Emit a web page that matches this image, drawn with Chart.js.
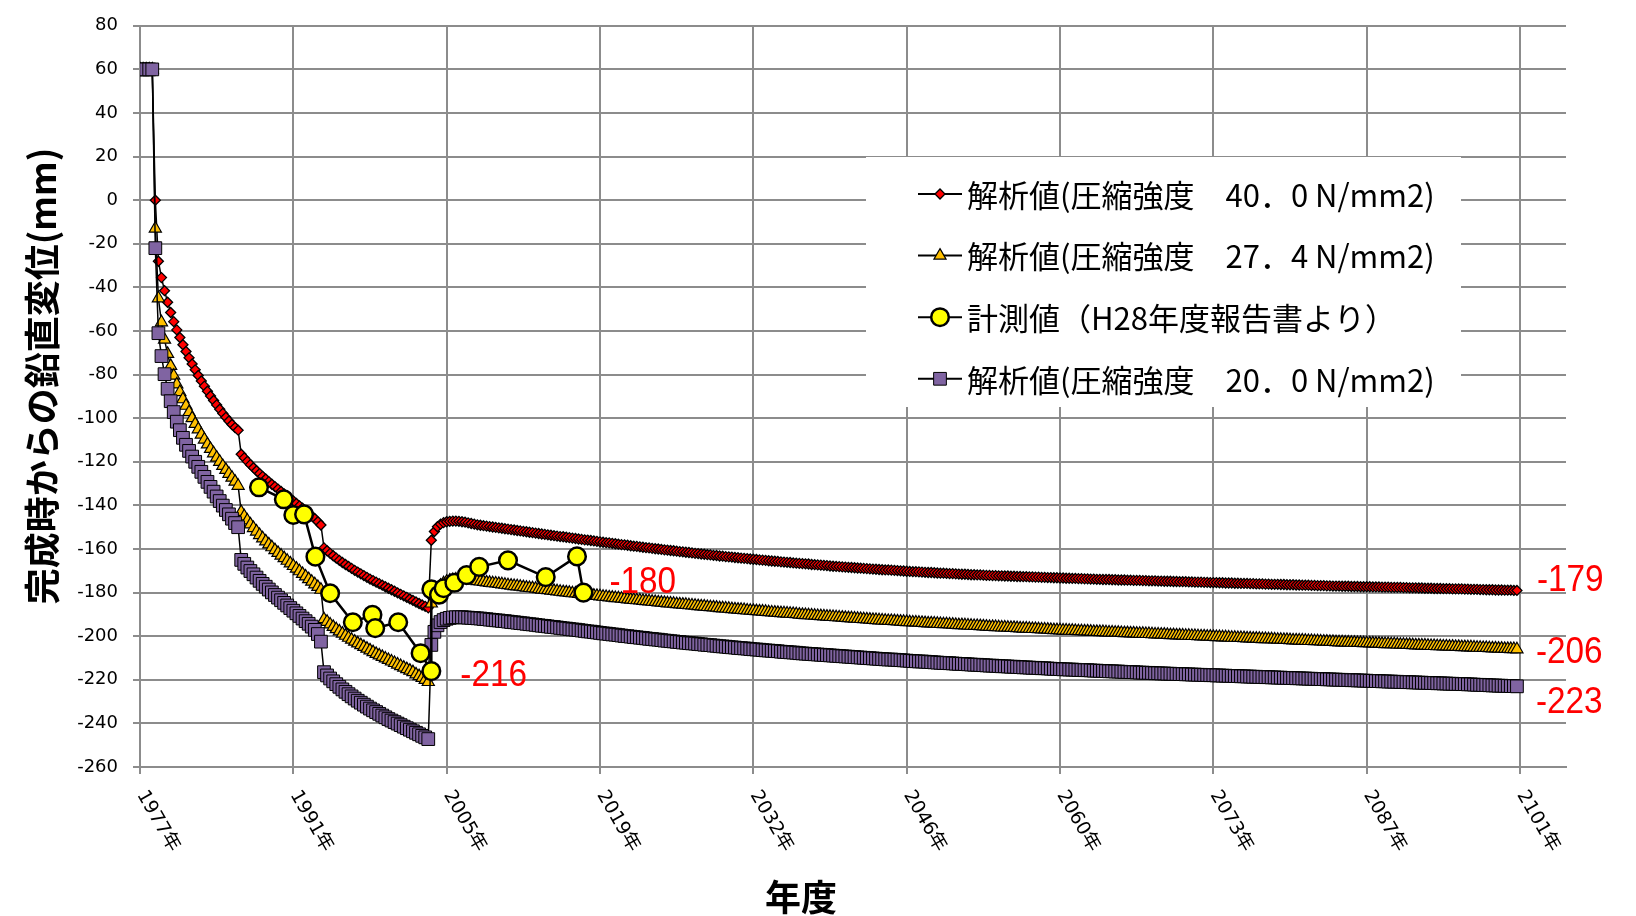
<!DOCTYPE html>
<html lang="ja">
<head>
<meta charset="utf-8">
<title>完成時からの鉛直変位</title>
<script src="https://cdn.jsdelivr.net/npm/chart.js@4.4.1/dist/chart.umd.min.js"></script>
<style>
html,body{margin:0;padding:0;background:#fff;}
#wrap{position:relative;width:1636px;height:916px;}
</style>
</head>
<body>
<div id="wrap"><canvas id="c" width="1636" height="916"></canvas></div>
<script>
// Time axis: one analysis step = 100 days; a year label every 50 steps
const tickSteps = [0, 50, 100, 150, 200, 250, 300, 350, 400, 450];
const tickLabels = ['1977年', '1991年', '2005年', '2019年', '2032年', '2046年', '2060年', '2073年', '2087年', '2101年'];

const seriesNames = [
  '解析値(圧縮強度　40．0 N/mm2)',
  '解析値(圧縮強度　27．4 N/mm2)',
  '計測値（H28年度報告書より）',
  '解析値(圧縮強度　20．0 N/mm2)'
];

// Analysis, compressive strength 40.0 N/mm2 (mm, one value per step)
const fc40 = [
60,60,60,60,60,0,-28,-35.5,-41.5,-46.8,
-51.5,-55.7,-59.5,-63,-66.3,-69.4,-72.3,-75.1,-77.8,-80.4,
-82.9,-85.3,-87.6,-89.8,-91.9,-93.9,-95.9,-97.8,-99.6,-101.3,
-102.9,-104.3,-105.5,-116.5,-118.2,-119.8,-121.3,-122.7,-124.1,-125.4,
-126.7,-127.9,-129.1,-130.3,-131.4,-132.5,-133.6,-134.7,-135.8,-136.9,
-138,-139.1,-140.2,-141.3,-142.4,-143.6,-144.8,-146.1,-147.5,-149,
-159.5,-160.8,-162,-163.1,-164.2,-165.2,-166.2,-167.1,-168,-168.9,
-169.8,-170.6,-171.4,-172.2,-173,-173.8,-174.5,-175.2,-175.9,-176.6,
-177.3,-178,-178.7,-179.4,-180.1,-180.8,-181.5,-182.2,-182.9,-183.6,
-184.3,-185,-185.7,-186.3,-187,-156,-152,-149.8,-148.6,-147.9,
-147.5,-147.3,-147.2,-147.2,-147.3,-147.5,-147.7,-148,-148.3,-148.6,
-148.9,-149.1,-149.3,-149.5,-149.7,-149.9,-150.1,-150.3,-150.5,-150.7,
-150.9,-151.1,-151.3,-151.5,-151.7,-151.9,-152.1,-152.3,-152.5,-152.7,
-152.9,-153.1,-153.3,-153.5,-153.7,-153.9,-154.1,-154.3,-154.4,-154.6,
-154.8,-155,-155.2,-155.4,-155.6,-155.8,-155.9,-156.1,-156.3,-156.5,
-156.7,-156.9,-157.1,-157.2,-157.4,-157.6,-157.8,-158,-158.1,-158.3,
-158.5,-158.7,-158.8,-159,-159.2,-159.4,-159.5,-159.7,-159.9,-160,
-160.2,-160.4,-160.5,-160.7,-160.8,-161,-161.2,-161.3,-161.5,-161.6,
-161.8,-162,-162.1,-162.3,-162.4,-162.6,-162.7,-162.9,-163,-163.2,
-163.3,-163.5,-163.6,-163.7,-163.9,-164,-164.2,-164.3,-164.4,-164.6,
-164.7,-164.8,-165,-165.1,-165.2,-165.4,-165.5,-165.6,-165.7,-165.9,
-166,-166.1,-166.2,-166.4,-166.5,-166.6,-166.7,-166.8,-166.9,-167.1,
-167.2,-167.3,-167.4,-167.5,-167.6,-167.8,-167.9,-168,-168.1,-168.2,
-168.3,-168.4,-168.5,-168.6,-168.7,-168.8,-168.9,-169,-169.1,-169.2,
-169.3,-169.4,-169.5,-169.6,-169.6,-169.7,-169.8,-169.9,-170,-170.1,
-170.2,-170.3,-170.4,-170.4,-170.5,-170.6,-170.7,-170.8,-170.8,-170.9,
-171,-171.1,-171.1,-171.2,-171.3,-171.3,-171.4,-171.5,-171.6,-171.6,
-171.7,-171.8,-171.8,-171.9,-171.9,-172,-172.1,-172.1,-172.2,-172.2,
-172.3,-172.3,-172.4,-172.4,-172.5,-172.5,-172.6,-172.6,-172.7,-172.7,
-172.8,-172.8,-172.9,-172.9,-173,-173,-173.1,-173.1,-173.2,-173.2,
-173.3,-173.3,-173.4,-173.4,-173.5,-173.5,-173.6,-173.6,-173.7,-173.7,
-173.8,-173.8,-173.9,-173.9,-174,-174,-174,-174.1,-174.1,-174.2,
-174.2,-174.2,-174.3,-174.3,-174.4,-174.4,-174.4,-174.5,-174.5,-174.6,
-174.6,-174.6,-174.7,-174.7,-174.8,-174.8,-174.8,-174.9,-174.9,-175,
-175,-175,-175.1,-175.1,-175.2,-175.2,-175.2,-175.3,-175.3,-175.4,
-175.4,-175.4,-175.5,-175.5,-175.6,-175.6,-175.6,-175.7,-175.7,-175.8,
-175.8,-175.8,-175.9,-175.9,-176,-176,-176,-176.1,-176.1,-176.2,
-176.2,-176.2,-176.3,-176.3,-176.4,-176.4,-176.4,-176.5,-176.5,-176.6,
-176.6,-176.6,-176.7,-176.7,-176.8,-176.8,-176.8,-176.9,-176.9,-177,
-177,-177,-177.1,-177.1,-177.1,-177.2,-177.2,-177.2,-177.3,-177.3,
-177.3,-177.3,-177.4,-177.4,-177.4,-177.5,-177.5,-177.5,-177.6,-177.6,
-177.6,-177.6,-177.7,-177.7,-177.8,-177.8,-177.8,-177.9,-177.9,-178,
-178,-178,-178.1,-178.1,-178.1,-178.2,-178.2,-178.2,-178.3,-178.3,
-178.3,-178.3,-178.4,-178.4,-178.5,-178.5,-178.5,-178.6,-178.6,-178.7,
-178.7,-178.7,-178.8,-178.8,-178.8,-178.9,-178.9,-178.9,-179,-179
];

// Analysis, compressive strength 27.4 N/mm2
const fc274 = [
60,60,60,60,60,-13,-45,-56,-64,-70.5,
-76,-80.5,-84.5,-88,-91.3,-94.3,-97.2,-100,-102.6,-105.1,
-107.5,-109.8,-112,-114.1,-116.1,-118.1,-120,-121.9,-123.7,-125.5,
-127.3,-129.1,-131,-143,-145,-146.9,-148.7,-150.4,-152,-153.6,
-155.1,-156.5,-157.9,-159.2,-160.5,-161.8,-163,-164.2,-165.4,-166.6,
-167.8,-169,-170.2,-171.4,-172.6,-173.8,-175,-176.2,-177.4,-178.7,
-192.2,-193.4,-194.6,-195.7,-196.8,-197.8,-198.8,-199.8,-200.7,-201.6,
-202.5,-203.3,-204.1,-204.9,-205.7,-206.5,-207.3,-208.1,-208.8,-209.5,
-210.2,-210.9,-211.6,-212.3,-213,-213.7,-214.4,-215.1,-215.8,-216.5,
-217.5,-218.3,-219.1,-220,-221,-185,-181,-178.5,-176.8,-175.7,
-175,-174.5,-174.2,-174,-173.9,-173.9,-174,-174.1,-174.3,-174.5,
-174.7,-174.9,-175.1,-175.3,-175.5,-175.7,-175.8,-176,-176.2,-176.4,
-176.6,-176.8,-177,-177.1,-177.3,-177.5,-177.7,-177.9,-178,-178.2,
-178.4,-178.6,-178.7,-178.9,-179.1,-179.2,-179.4,-179.6,-179.8,-179.9,
-180.1,-180.3,-180.4,-180.6,-180.7,-180.9,-181.1,-181.2,-181.4,-181.5,
-181.7,-181.9,-182,-182.2,-182.3,-182.5,-182.6,-182.8,-182.9,-183.1,
-183.2,-183.4,-183.5,-183.6,-183.8,-183.9,-184,-184.2,-184.3,-184.5,
-184.6,-184.7,-184.9,-185,-185.1,-185.3,-185.4,-185.5,-185.6,-185.8,
-185.9,-186,-186.2,-186.3,-186.4,-186.6,-186.7,-186.8,-186.9,-187.1,
-187.2,-187.3,-187.4,-187.6,-187.7,-187.8,-187.9,-188,-188.2,-188.3,
-188.4,-188.5,-188.6,-188.7,-188.8,-189,-189.1,-189.2,-189.3,-189.4,
-189.5,-189.6,-189.7,-189.8,-189.9,-190.1,-190.2,-190.3,-190.4,-190.5,
-190.6,-190.7,-190.8,-190.9,-191,-191.1,-191.2,-191.3,-191.4,-191.5,
-191.6,-191.7,-191.8,-191.9,-192,-192.1,-192.2,-192.3,-192.4,-192.5,
-192.6,-192.7,-192.8,-192.9,-193,-193,-193.1,-193.2,-193.3,-193.4,
-193.5,-193.6,-193.7,-193.7,-193.8,-193.9,-194,-194.1,-194.1,-194.2,
-194.3,-194.4,-194.5,-194.5,-194.6,-194.7,-194.8,-194.9,-194.9,-195,
-195.1,-195.2,-195.3,-195.3,-195.4,-195.5,-195.6,-195.7,-195.7,-195.8,
-195.9,-196,-196,-196.1,-196.2,-196.2,-196.3,-196.4,-196.5,-196.5,
-196.6,-196.7,-196.7,-196.8,-196.9,-196.9,-197,-197.1,-197.2,-197.2,
-197.3,-197.4,-197.4,-197.5,-197.5,-197.6,-197.7,-197.7,-197.8,-197.8,
-197.9,-198,-198,-198.1,-198.1,-198.2,-198.3,-198.3,-198.4,-198.4,
-198.5,-198.6,-198.6,-198.7,-198.7,-198.8,-198.9,-198.9,-199,-199,
-199.1,-199.2,-199.2,-199.3,-199.3,-199.4,-199.5,-199.5,-199.6,-199.6,
-199.7,-199.8,-199.8,-199.9,-199.9,-200,-200.1,-200.1,-200.2,-200.2,
-200.3,-200.4,-200.4,-200.5,-200.5,-200.6,-200.7,-200.7,-200.8,-200.8,
-200.9,-201,-201,-201.1,-201.1,-201.2,-201.3,-201.3,-201.4,-201.4,
-201.5,-201.6,-201.6,-201.7,-201.7,-201.8,-201.9,-201.9,-202,-202,
-202.1,-202.2,-202.2,-202.3,-202.3,-202.4,-202.5,-202.5,-202.6,-202.6,
-202.7,-202.8,-202.8,-202.9,-202.9,-203,-203,-203.1,-203.1,-203.2,
-203.2,-203.3,-203.3,-203.4,-203.4,-203.5,-203.6,-203.6,-203.7,-203.7,
-203.8,-203.9,-203.9,-204,-204,-204.1,-204.2,-204.2,-204.3,-204.3,
-204.4,-204.5,-204.5,-204.6,-204.6,-204.7,-204.7,-204.8,-204.8,-204.9,
-204.9,-205,-205,-205.1,-205.1,-205.2,-205.3,-205.3,-205.4,-205.4,
-205.5,-205.6,-205.6,-205.7,-205.7,-205.8,-205.8,-205.9,-205.9,-206
];

// Analysis, compressive strength 20.0 N/mm2
const fc20 = [
60,60,60,60,60,-22,-61,-71.5,-79.8,-86.5,
-92.2,-97.2,-101.6,-105.5,-109,-112.2,-115,-117.6,-120,-122.3,
-124.6,-126.9,-129.2,-131.5,-133.7,-135.9,-138,-140.1,-142.1,-144.1,
-146.1,-148.1,-150,-165,-166.8,-168.5,-170.1,-171.6,-173.1,-174.6,
-176,-177.3,-178.6,-179.9,-181.1,-182.3,-183.5,-184.7,-185.9,-187.1,
-188.3,-189.5,-190.7,-191.9,-193.1,-194.3,-195.6,-197.1,-199,-202.5,
-216.5,-218,-219.4,-220.7,-222,-223.2,-224.4,-225.5,-226.6,-227.6,
-228.6,-229.6,-230.5,-231.4,-232.3,-233.2,-234,-234.8,-235.6,-236.4,
-237.2,-238,-238.7,-239.4,-240.1,-240.8,-241.5,-242.2,-242.9,-243.6,
-244.3,-245,-245.7,-246.4,-247.2,-204,-198,-195,-193.5,-192.6,
-192,-191.6,-191.4,-191.3,-191.3,-191.3,-191.4,-191.5,-191.6,-191.7,
-191.8,-191.9,-192.1,-192.2,-192.4,-192.5,-192.7,-192.8,-193,-193.1,
-193.3,-193.5,-193.6,-193.8,-194,-194.1,-194.3,-194.5,-194.6,-194.8,
-195,-195.2,-195.3,-195.5,-195.7,-195.8,-196,-196.2,-196.4,-196.5,
-196.7,-196.9,-197,-197.2,-197.4,-197.6,-197.8,-197.9,-198.1,-198.3,
-198.5,-198.7,-198.8,-199,-199.2,-199.3,-199.5,-199.7,-199.9,-200,
-200.2,-200.4,-200.5,-200.7,-200.8,-201,-201.2,-201.3,-201.5,-201.6,
-201.8,-202,-202.1,-202.3,-202.4,-202.6,-202.7,-202.9,-203,-203.2,
-203.3,-203.4,-203.6,-203.7,-203.9,-204,-204.1,-204.3,-204.4,-204.6,
-204.7,-204.8,-205,-205.1,-205.2,-205.4,-205.5,-205.6,-205.7,-205.9,
-206,-206.1,-206.2,-206.4,-206.5,-206.6,-206.7,-206.8,-206.9,-207.1,
-207.2,-207.3,-207.4,-207.5,-207.6,-207.8,-207.9,-208,-208.1,-208.2,
-208.3,-208.4,-208.5,-208.6,-208.7,-208.8,-208.9,-209,-209.1,-209.2,
-209.3,-209.4,-209.5,-209.6,-209.7,-209.8,-209.9,-210,-210.1,-210.2,
-210.3,-210.4,-210.5,-210.6,-210.7,-210.7,-210.8,-210.9,-211,-211.1,
-211.2,-211.3,-211.4,-211.5,-211.6,-211.6,-211.7,-211.8,-211.9,-212,
-212.1,-212.2,-212.3,-212.3,-212.4,-212.5,-212.6,-212.7,-212.7,-212.8,
-212.9,-213,-213.1,-213.1,-213.2,-213.3,-213.4,-213.5,-213.5,-213.6,
-213.7,-213.8,-213.8,-213.9,-214,-214,-214.1,-214.2,-214.3,-214.3,
-214.4,-214.5,-214.5,-214.6,-214.7,-214.7,-214.8,-214.9,-215,-215,
-215.1,-215.2,-215.2,-215.3,-215.3,-215.4,-215.5,-215.5,-215.6,-215.6,
-215.7,-215.8,-215.8,-215.9,-215.9,-216,-216.1,-216.1,-216.2,-216.2,
-216.3,-216.4,-216.4,-216.5,-216.5,-216.6,-216.7,-216.7,-216.8,-216.8,
-216.9,-217,-217,-217.1,-217.1,-217.2,-217.2,-217.3,-217.3,-217.4,
-217.4,-217.5,-217.5,-217.6,-217.6,-217.7,-217.7,-217.8,-217.8,-217.9,
-217.9,-218,-218,-218.1,-218.1,-218.2,-218.2,-218.3,-218.3,-218.4,
-218.4,-218.5,-218.5,-218.6,-218.6,-218.7,-218.7,-218.8,-218.8,-218.9,
-218.9,-219,-219,-219.1,-219.1,-219.2,-219.2,-219.3,-219.3,-219.4,
-219.4,-219.5,-219.5,-219.6,-219.6,-219.7,-219.7,-219.8,-219.8,-219.9,
-219.9,-220,-220,-220.1,-220.1,-220.2,-220.2,-220.3,-220.3,-220.4,
-220.4,-220.5,-220.5,-220.6,-220.6,-220.7,-220.7,-220.8,-220.8,-220.9,
-220.9,-221,-221,-221.1,-221.1,-221.2,-221.2,-221.3,-221.3,-221.4,
-221.4,-221.5,-221.5,-221.6,-221.6,-221.7,-221.7,-221.8,-221.8,-221.9,
-221.9,-222,-222,-222.1,-222.1,-222.2,-222.3,-222.3,-222.4,-222.4,
-222.5,-222.6,-222.6,-222.7,-222.7,-222.8,-222.8,-222.9,-222.9,-223
];

// Survey results: position on the step axis and displacement (mm)
const measuredSteps = [38.8, 46.9, 50, 53.5, 57.2, 62, 69.4, 75.8, 76.7, 84.2, 91.5, 95, 95, 97.5, 99, 102.5, 106.5, 110.6, 120, 132.3, 142.5, 144.6];
const measuredValues = [-131.7, -137.2, -144.4, -144.1, -163.5, -180.3, -193.6, -190.2, -196.3, -193.6, -207.8, -216, -178.5, -181, -178, -175.5, -172, -168.2, -165.2, -172.9, -163.4, -180];

// Value call-outs: dataset index, point index, offset from the point (px)
const callouts = [
  { ds: 2, idx: 11, dx: 29, dy: 2 },
  { ds: 2, idx: 21, dx: 26, dy: -13 },
  { ds: 0, idx: 449, dx: 20, dy: -12 },
  { ds: 1, idx: 449, dx: 19, dy: 1 },
  { ds: 3, idx: 449, dx: 19, dy: 14 }
];

const GRID = '#8c8c8c';
const JP = '"Noto Sans CJK JP", "Noto Sans", sans-serif';

const byStep = vals => vals.map((v, i) => ({ x: i, y: v }));

const markerStyle = (style, radius, fill, bw) => ({
  pointStyle: style, pointRadius: radius, pointHoverRadius: radius,
  pointBackgroundColor: fill, pointBorderColor: '#000', pointBorderWidth: bw,
  borderColor: '#000', backgroundColor: fill
});

const datasets = [
  Object.assign({ label: seriesNames[0], data: byStep(fc40), borderWidth: 1.5, order: 4 }, markerStyle('rectRot', 5, '#ff0000', 1.3)),
  Object.assign({ label: seriesNames[1], data: byStep(fc274), borderWidth: 1.5, order: 3 }, markerStyle('triangle', 7, '#ffc000', 1.2)),
  Object.assign({ label: seriesNames[2], data: measuredSteps.map((s, i) => ({ x: s, y: measuredValues[i] })), borderWidth: 2.5, order: 1 }, markerStyle('circle', 8.8, '#ffff00', 2.5)),
  Object.assign({ label: seriesNames[3], data: byStep(fc20), borderWidth: 1.5, order: 2 }, markerStyle('rect', 9, '#8064a2', 1))
];

const legendRows = [0, 1, 2, 3];

const overlay = {
  id: 'overlay',
  afterDraw(chart) {
    const ctx = chart.ctx;
    const xs = chart.scales.x, ys = chart.scales.y;
    const area = chart.chartArea;

    // legend panel
    ctx.save();
    ctx.fillStyle = '#ffffff';
    ctx.fillRect(866, 157, 595, 250);
    legendRows.forEach((di, row) => {
      const ds = chart.data.datasets[di];
      const cy = 194 + row * 61.6;
      ctx.strokeStyle = '#000';
      ctx.lineWidth = 2;
      ctx.beginPath();
      ctx.moveTo(918, cy);
      ctx.lineTo(962, cy);
      ctx.stroke();
      ctx.fillStyle = ds.pointBackgroundColor;
      ctx.strokeStyle = '#000';
      ctx.lineWidth = ds.pointBorderWidth;
      Chart.helpers.drawPoint(ctx, { pointStyle: ds.pointStyle, radius: ds.pointRadius, borderWidth: ds.pointBorderWidth, rotation: 0 }, 940, cy);
      ctx.fillStyle = '#000';
      ctx.font = '31px ' + JP;
      ctx.textAlign = 'left';
      ctx.textBaseline = 'middle';
      ctx.fillText(ds.label, 967, cy + 1);
    });
    ctx.restore();

    // rotated year labels under the time axis
    ctx.save();
    ctx.fillStyle = '#000';
    ctx.font = '19px "DejaVu Sans", ' + JP;
    ctx.textAlign = 'left';
    ctx.textBaseline = 'middle';
    tickSteps.forEach((s, i) => {
      const px = xs.getPixelForValue(s);
      ctx.save();
      ctx.translate(px + 1, area.bottom + 25);
      ctx.rotate(Math.PI / 3);
      ctx.fillText(tickLabels[i], 0, 0);
      ctx.restore();
    });
    ctx.restore();

    // axis titles
    ctx.save();
    ctx.fillStyle = '#000';
    ctx.font = 'bold 36px ' + JP;
    ctx.textAlign = 'center';
    ctx.textBaseline = 'middle';
    ctx.save();
    ctx.translate(42, 376);
    ctx.rotate(-Math.PI / 2);
    ctx.fillText('完成時からの鉛直変位(mm)', 0, 0);
    ctx.restore();
    ctx.fillText('年度', 801, 897);
    ctx.restore();

    // value call-outs
    ctx.save();
    ctx.fillStyle = '#ff0000';
    ctx.font = '37px "Liberation Sans", Arial, sans-serif';
    ctx.textAlign = 'left';
    ctx.textBaseline = 'alphabetic';
    callouts.forEach(c => {
      const pt = chart.data.datasets[c.ds].data[c.idx];
      const px = xs.getPixelForValue(pt.x);
      const py = ys.getPixelForValue(pt.y);
      ctx.save();
      ctx.translate(px + c.dx, py + c.dy + 13);
      ctx.scale(0.9, 1);
      ctx.fillText(String(Math.round(pt.y)), 0, 0);
      ctx.restore();
    });
    ctx.restore();
  }
};

new Chart(document.getElementById('c').getContext('2d'), {
  type: 'line',
  data: { datasets },
  options: {
    responsive: false,
    animation: false,
    devicePixelRatio: 1,
    events: [],
    layout: { padding: { left: 0, right: 70, top: 25, bottom: 0 } },
    elements: { line: { tension: 0, fill: false } },
    plugins: { legend: { display: false }, tooltip: { enabled: false } },
    scales: {
      x: {
        type: 'linear', min: 0, max: 465,
        afterBuildTicks(scale) { scale.ticks = tickSteps.map(v => ({ value: v })); },
        afterFit(scale) { scale.height = 149; },
        ticks: { display: false },
        grid: { color: GRID, lineWidth: 2, tickLength: 7 },
        border: { color: GRID, width: 2 }
      },
      y: {
        min: -260, max: 80,
        afterFit(scale) { scale.width = 140; },
        ticks: { stepSize: 20, color: '#000', padding: 15, font: { family: '"DejaVu Sans", sans-serif', size: 18 } },
        grid: { color: GRID, lineWidth: 2, tickLength: 7 },
        border: { color: GRID, width: 2 }
      }
    }
  },
  plugins: [overlay]
});
</script>
</body>
</html>
